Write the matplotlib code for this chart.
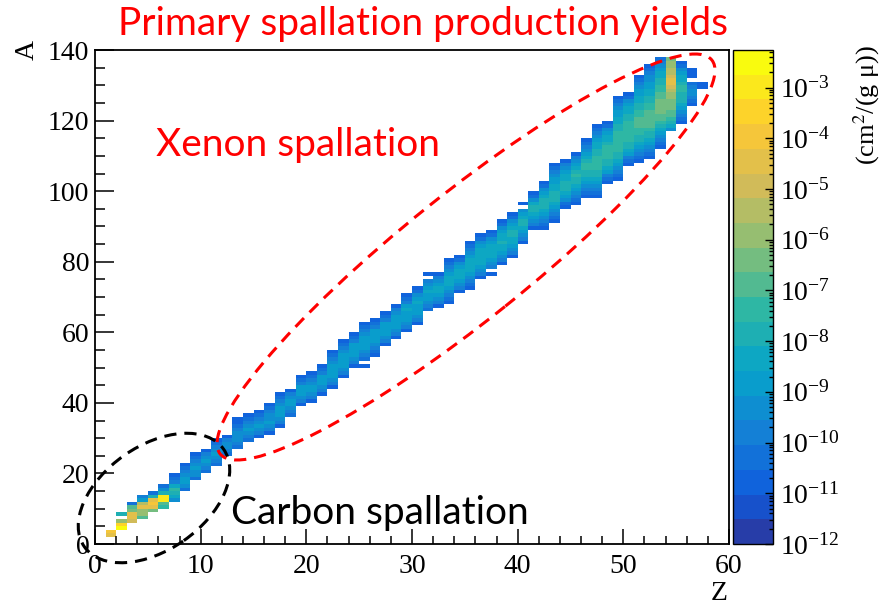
import numpy as np
import matplotlib
matplotlib.use("Agg")
import matplotlib.pyplot as plt
from matplotlib.colors import LinearSegmentedColormap, ListedColormap, LogNorm
from matplotlib.patches import Ellipse
from matplotlib.ticker import MultipleLocator, FixedLocator, NullFormatter

plt.rcParams['font.family'] = ['Liberation Serif', 'DejaVu Serif']
plt.rcParams['mathtext.fontset'] = 'stix'

# one entry per Z column: first A of the column and the colour band of every A cell
# (band 0 = lowest palette colour ... band 19 = top yellow, '.' = empty)
col_z = list(range(1, 58))
col_a0 = [2, 4, 6, 7, 9, 10, 12, 15, 18, 20,
          22, 25, 27, 29, 30, 31, 33, 36, 39, 40,
          42, 44, 47, 50, 50, 53, 56, 58, 60, 62,
          66, 67, 68, 71, 72, 75, 76, 79, 81, 85,
          89, 89, 91, 95, 96, 98, 98, 102, 103, 107,
          108, 109, 112, 117, 119, 124, 129]
col_levels = [
    "fg", "jhc.8", "effba3", "accfd64", "bfgf83", "9aii853", "57897432",
    "35665432", "35565432", "3456542",
    "34565432", "345542", "345554322", "34565432", "24565432",
    "245655432", "2456665432", "34566542", "245666432", "245665432",
    "245666432", "24566665432", "24566665432", "2456666432", "2.34566665432",
    "23456666432", "2456666432", "2456666542", "24566676432", "24566676532",
    "345667654.2", "2456776542", "2345677765432", "24567776532", "23456777765432",
    "2456777776532", "2.45677776532", "2456778776532", "2456778876532", "2456788765.2",
    "24567887532", "23456788876532", "23456788877665432", "23567888776542",
    "234567889876542", "23456788998765432", "234567889999887765432",
    "234678899998776532", "234567889999998877665432", "234678899999988776532",
    "2345678899aaa998877665432", "234567889aaaaa9988776655432",
    "23456789aabbbbaa9988776543", "5789aabbbccdeffeddccb",
    "234567888998776532", "2345543.222", "22",
]
band_chars = "0123456789abcdefghij"

z_min, z_max, n_bands = 1e-12, 10 ** -2.26, 20
z_ticks = [10.0 ** k for k in range(-12, -2)]

# ROOT kBird palette
stops = [0.0, 0.125, 0.25, 0.375, 0.5, 0.625, 0.75, 0.875, 1.0]
red = [0.2082, 0.0592, 0.0780, 0.0232, 0.1802, 0.5301, 0.8186, 0.9956, 0.9764]
green = [0.1664, 0.3599, 0.5041, 0.6419, 0.7178, 0.7492, 0.7328, 0.7862, 0.9832]
blue = [0.5293, 0.8684, 0.8385, 0.7914, 0.6425, 0.4662, 0.3499, 0.1968, 0.0539]
bird = LinearSegmentedColormap.from_list(
    "bird", list(zip(stops, zip(red, green, blue))), N=255)
band_colors = [bird(int((i + 0.99) * 255 / n_bands)) for i in range(n_bands)]
cmap = ListedColormap(band_colors)

log_lo, log_hi = np.log10(z_min), np.log10(z_max)
step = (log_hi - log_lo) / n_bands
yields = np.full((140, 60), np.nan)
for z, a0, row in zip(col_z, col_a0, col_levels):
    for k, ch in enumerate(row):
        if ch != '.':
            yields[a0 + k, z] = 10 ** (log_lo + (band_chars.index(ch) + 0.5) * step)

W, H = 884, 608
fig = plt.figure(figsize=(W / 100, H / 100), dpi=100)
ax = fig.add_axes([95 / W, 64 / H, 634 / W, 494 / H])
cax = fig.add_axes([733 / W, 64 / H, 40 / W, 494 / H])

mesh = ax.pcolormesh(np.arange(61), np.arange(141), np.ma.masked_invalid(yields),
                     cmap=cmap, norm=LogNorm(vmin=z_min, vmax=z_max),
                     shading='flat', edgecolors='none', antialiased=False)
ax.set_xlim(0, 60)
ax.set_ylim(0, 140)
ax.xaxis.set_major_locator(MultipleLocator(10))
ax.xaxis.set_minor_locator(MultipleLocator(2))
ax.yaxis.set_major_locator(MultipleLocator(20))
ax.yaxis.set_minor_locator(MultipleLocator(5))
ax.tick_params(axis='both', which='both', direction='in', labelsize=20, width=1.1)
ax.tick_params(axis='x', which='major', length=11, pad=7)
ax.tick_params(axis='x', which='minor', length=6)
ax.tick_params(axis='y', which='major', length=14, pad=4)
ax.tick_params(axis='y', which='minor', length=7)
for sp in ax.spines.values():
    sp.set_linewidth(1.3)

cbar = fig.colorbar(mesh, cax=cax)
cbar.outline.set_linewidth(1.0)
cbar.set_ticks(z_ticks, labels=[r'$\mathdefault{10^{%d}}$' % k for k in range(-12, -2)])
minors = [m * 10.0 ** k for k in range(-12, -2) for m in range(2, 10)]
cax.yaxis.set_minor_locator(FixedLocator([v for v in minors if v <= z_max]))
cax.yaxis.set_minor_formatter(NullFormatter())
cax.tick_params(which='both', direction='in', right=True, left=False, labelsize=20, width=1.0, pad=5)
cax.tick_params(which='major', length=6)
cax.tick_params(which='minor', length=3)

fig.text(867 / W, 1 - 45 / H, '(cm$^{2}$/(g μ))', rotation=90, ha='center', va='top', fontsize=19)
fig.text(27 / W, 1 - 40 / H, 'A', rotation=90, ha='center', va='top', fontsize=20)
fig.text(728 / W, 1 - 594 / H, 'Z', ha='right', va='center', fontsize=20)

fig.text(423 / W, 1 - 24 / H, 'Primary spallation production yields', color='red',
         fontfamily=['Lato', 'DejaVu Sans'], fontsize=28, ha='center', va='center')
fig.text(298 / W, 1 - 145 / H, 'Xenon spallation', color='red',
         fontfamily=['Lato', 'DejaVu Sans'], fontsize=28, ha='center', va='center')
fig.text(380 / W, 1 - 513 / H, 'Carbon spallation', color='black',
         fontfamily=['Lato', 'DejaVu Sans'], fontsize=28, ha='center', va='center')

fig.add_artist(Ellipse((4.66, (H - 257) / 100), 6.30, 1.26, angle=38.7,
                       transform=fig.dpi_scale_trans, fill=False, edgecolor='red',
                       linewidth=2.2, linestyle=(0, (4, 2.6))))
fig.add_artist(Ellipse((1.54, (H - 498) / 100), 1.70, 1.04, angle=35,
                       transform=fig.dpi_scale_trans, fill=False, edgecolor='black',
                       linewidth=2.2, linestyle=(0, (4, 2.6))))

fig.savefig('out.png', dpi=100, facecolor='white')
